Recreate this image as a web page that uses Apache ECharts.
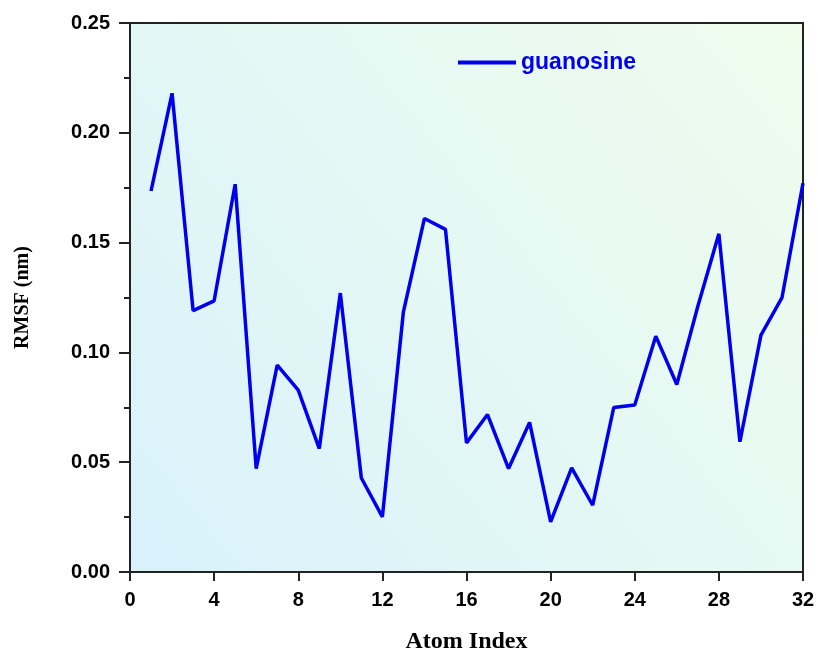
<!DOCTYPE html>
<html>
<head>
<meta charset="utf-8">
<script src="https://cdn.jsdelivr.net/npm/echarts@6/dist/echarts.min.js"></script>
<style>
  html, body { margin: 0; padding: 0; background: #fff; }
  #chart { width: 818px; height: 655px; }
</style>
</head>
<body>
<div id="chart"></div>
<script>
// atom index 1..32, RMSF in nm
const atomIndex = [1, 2, 3, 4, 5, 6, 7, 8, 9, 10, 11, 12, 13, 14, 15, 16,
  17, 18, 19, 20, 21, 22, 23, 24, 25, 26, 27, 28, 29, 30, 31, 32];
const rmsf = [0.1735, 0.218, 0.119, 0.1235, 0.1766, 0.0471, 0.0942, 0.0828,
  0.0562, 0.127, 0.0428, 0.0251, 0.1185, 0.161, 0.156, 0.0588,
  0.0717, 0.0471, 0.0681, 0.0228, 0.0474, 0.0304, 0.0749, 0.076,
  0.1074, 0.0854, 0.121, 0.154, 0.0593, 0.1079, 0.1249, 0.177];
const seriesName = "guanosine";

const tickFont = {
  color: "#000",
  fontFamily: "Liberation Sans, Arial, sans-serif",
  fontWeight: "bold",
  fontSize: 20,
};
const serif = "Liberation Serif, Times New Roman, serif";

const option = {
  animation: false,
  grid: {
    left: 130,
    right: 15,
    top: 23,
    bottom: 83,
    outerBoundsMode: "none",
    containLabel: false,
    show: true,
    borderColor: "#222",
    borderWidth: 2,
    backgroundColor: new echarts.graphic.LinearGradient(0, 1, 1, 0, [
      { offset: 0, color: "#d8f1fb" },
      { offset: 0.5, color: "#e4f8f4" },
      { offset: 1, color: "#effcec" },
    ]),
  },
  legend: {
    left: 453,
    top: 46,
    icon: "rect",
    itemWidth: 58,
    itemHeight: 4,
    textStyle: {
      color: "#0000ee",
      fontFamily: "Liberation Sans, Arial, sans-serif",
      fontWeight: "bold",
      fontSize: 23,
    },
    data: [seriesName],
  },
  xAxis: {
    type: "value",
    min: 0,
    max: 32,
    interval: 4,
    name: "Atom Index",
    nameLocation: "middle",
    nameGap: 58,
    nameTextStyle: { color: "#000", fontFamily: serif, fontWeight: "bold", fontSize: 24 },
    axisLine: { show: true, onZero: false, lineStyle: { color: "#222", width: 2 } },
    axisTick: { show: true, length: 9, lineStyle: { color: "#222", width: 2 } },
    axisLabel: { ...tickFont, margin: 18 },
    splitLine: { show: false },
  },
  yAxis: {
    type: "value",
    min: 0,
    max: 0.25,
    interval: 0.05,
    name: "RMSF (nm)",
    nameLocation: "middle",
    nameGap: 97,
    nameTextStyle: { color: "#000", fontFamily: serif, fontWeight: "bold", fontSize: 20 },
    axisLine: { show: true, onZero: false, lineStyle: { color: "#222", width: 2 } },
    axisTick: { show: true, length: 11, lineStyle: { color: "#222", width: 2 } },
    minorTick: { show: true, splitNumber: 2, length: 6, lineStyle: { color: "#222", width: 2 } },
    axisLabel: {
      ...tickFont,
      margin: 20,
      formatter: (v) => v.toFixed(2),
    },
    splitLine: { show: false },
  },
  series: [
    {
      name: seriesName,
      type: "line",
      data: atomIndex.map((x, i) => [x, rmsf[i]]),
      showSymbol: false,
      symbol: "none",
      lineStyle: { color: "#0000ee", width: 3.5 },
      itemStyle: { color: "#0000ee" },
    },
  ],
};

const chart = echarts.init(document.getElementById("chart"));
chart.setOption(option);
</script>
</body>
</html>
